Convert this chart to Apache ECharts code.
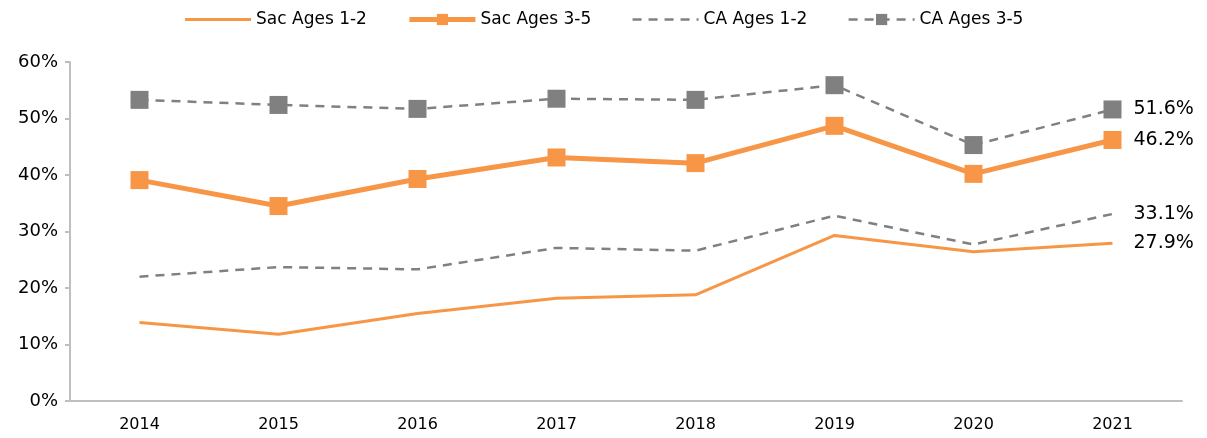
<!DOCTYPE html>
<html>
<head>
<meta charset="utf-8">
<script src="https://cdn.jsdelivr.net/npm/echarts@6/dist/echarts.min.js"></script>
<style>
  html, body { margin: 0; padding: 0; background: #fff; }
  #chart { width: 1207px; height: 438px; }
</style>
</head>
<body>
<div id="chart"></div>
<script>
// years and rates (%)
var years = ["2014", "2015", "2016", "2017", "2018", "2019", "2020", "2021"];
var sac12 = [13.9, 11.8, 15.5, 18.2, 18.8, 29.3, 26.4, 27.9];
var sac35 = [39.1, 34.5, 39.3, 43.1, 42.1, 48.7, 40.2, 46.2];
var ca12 = [22.0, 23.7, 23.3, 27.1, 26.6, 32.8, 27.7, 33.1];
var ca35 = [53.3, 52.4, 51.7, 53.5, 53.3, 55.9, 45.3, 51.6];

var orange = "#F79646";
var grey = "#808080";
var font = "'DejaVu Sans', sans-serif";

var chart = echarts.init(document.getElementById("chart"));

// value label at the end of each line
var endLabel = {
  show: true,
  distance: 21,
  color: "#000",
  fontSize: 19,
  fontFamily: font,
  formatter: function (p) { return p.value.toFixed(1) + "%"; }
};

var option = {
  animation: false,
  backgroundColor: "#fff",
  legend: {
    top: 6,
    left: "center",
    itemWidth: 66,
    itemHeight: 14,
    itemGap: 40,
    textStyle: { fontSize: 17, color: "#000", fontFamily: font },
    data: [
      { name: "Sac Ages 1-2", itemStyle: { opacity: 0 }, lineStyle: { width: 3 } },
      { name: "Sac Ages 3-5", lineStyle: { width: 5 } },
      { name: "CA Ages 1-2", itemStyle: { opacity: 0 }, lineStyle: { width: 2.5 } },
      { name: "CA Ages 3-5", lineStyle: { width: 2.5 } }
    ]
  },
  grid: { left: 70, right: 25, top: 62, bottom: 37 },
  xAxis: {
    type: "category",
    data: years,
    boundaryGap: true,
    axisLine: { lineStyle: { color: "#bfbfbf", width: 2 } },
    axisTick: { show: false },
    axisLabel: { color: "#000", fontSize: 16, margin: 16, fontFamily: font }
  },
  yAxis: {
    type: "value",
    min: 0,
    max: 60,
    interval: 10,
    axisLine: { show: true, lineStyle: { color: "#bfbfbf", width: 2 } },
    axisTick: { show: true, length: 5, lineStyle: { color: "#bfbfbf", width: 2 } },
    splitLine: { show: false },
    axisLabel: {
      color: "#000",
      fontSize: 18,
      margin: 12,
      fontFamily: font,
      formatter: "{value}%"
    }
  },
  series: [
    {
      name: "Sac Ages 1-2",
      type: "line",
      data: sac12,
      symbol: "none",
      lineStyle: { color: orange, width: 3 },
      itemStyle: { color: orange },
      endLabel: endLabel
    },
    {
      name: "Sac Ages 3-5",
      type: "line",
      data: sac35,
      symbol: "rect",
      symbolSize: 18,
      lineStyle: { color: orange, width: 5 },
      itemStyle: { color: orange },
      endLabel: endLabel
    },
    {
      name: "CA Ages 1-2",
      type: "line",
      data: ca12,
      symbol: "none",
      lineStyle: { color: grey, width: 2.5, type: [9, 7] },
      itemStyle: { color: grey },
      endLabel: endLabel
    },
    {
      name: "CA Ages 3-5",
      type: "line",
      data: ca35,
      symbol: "rect",
      symbolSize: 18,
      lineStyle: { color: grey, width: 2.5, type: [9, 7] },
      itemStyle: { color: grey },
      endLabel: endLabel
    }
  ]
};

chart.setOption(option);
</script>
</body>
</html>
